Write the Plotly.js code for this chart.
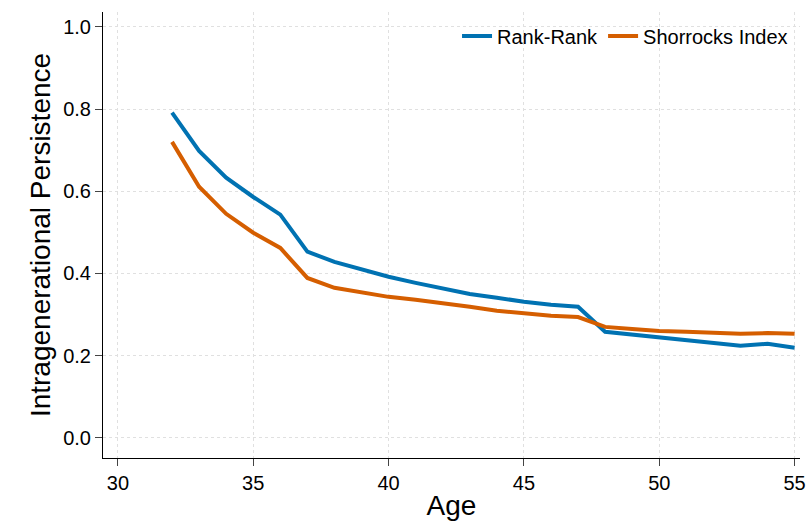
<!DOCTYPE html>
<html><head><script src="https://cdn.plot.ly/plotly-3.0.1.min.js"></script></head>
<body style="margin:0"><div id="c" style="width:810px;height:524px"></div>
<script>
const ages=[32,33,34,35,36,37,38,39,40,41,42,43,44,45,46,47,48,49,50,51,52,53,54,55];
const rankRank=[0.791,0.698,0.633,0.586,0.543,0.453,0.428,0.409,0.392,0.377,0.363,0.350,0.341,0.331,0.324,0.319,0.258,0.251,0.243,0.236,0.231,0.224,0.229,0.219];
const shorrocks=[0.720,0.611,0.545,0.499,0.462,0.389,0.365,0.353,0.343,0.336,0.328,0.319,0.309,0.302,0.297,0.294,0.270,0.265,0.260,0.258,0.255,0.253,0.255,0.253];
const f={family:"Liberation Sans, Arial, sans-serif",color:"#000"};
Plotly.newPlot("c",[
{x:ages,y:rankRank,mode:"lines",name:"Rank-Rank",line:{color:"#0072B2",width:4}},
{x:ages,y:shorrocks,mode:"lines",name:"Shorrocks Index",line:{color:"#D55E00",width:4}}
],{width:810,height:524,margin:{l:103,r:10,t:12,b:66},paper_bgcolor:"#fff",plot_bgcolor:"#fff",font:f,
xaxis:{range:[29.45,55.2],tickvals:[30,35,40,45,50,55],showgrid:true,gridcolor:"#e0e0e0",griddash:"dot",zeroline:false,showline:true,linecolor:"#000",ticks:"outside",ticklen:7,tickfont:{family:f.family,color:"#000",size:20},title:{text:"Age",font:{family:f.family,color:"#000",size:28},standoff:2}},
yaxis:{range:[-0.049,1.036],tickvals:[0,0.2,0.4,0.6,0.8,1.0],tickformat:".1f",showgrid:true,gridcolor:"#e0e0e0",griddash:"dot",zeroline:false,showline:true,linecolor:"#000",ticks:"outside",ticklen:7,tickfont:{family:f.family,color:"#000",size:20},title:{text:"Intragenerational Persistence",font:{family:f.family,color:"#000",size:28},standoff:4}},
legend:{orientation:"h",x:0.99,xanchor:"right",y:0.99,yanchor:"top",font:{family:f.family,color:"#000",size:20},bgcolor:"rgba(0,0,0,0)"},
showlegend:true},{displayModeBar:false});
</script></body></html>
